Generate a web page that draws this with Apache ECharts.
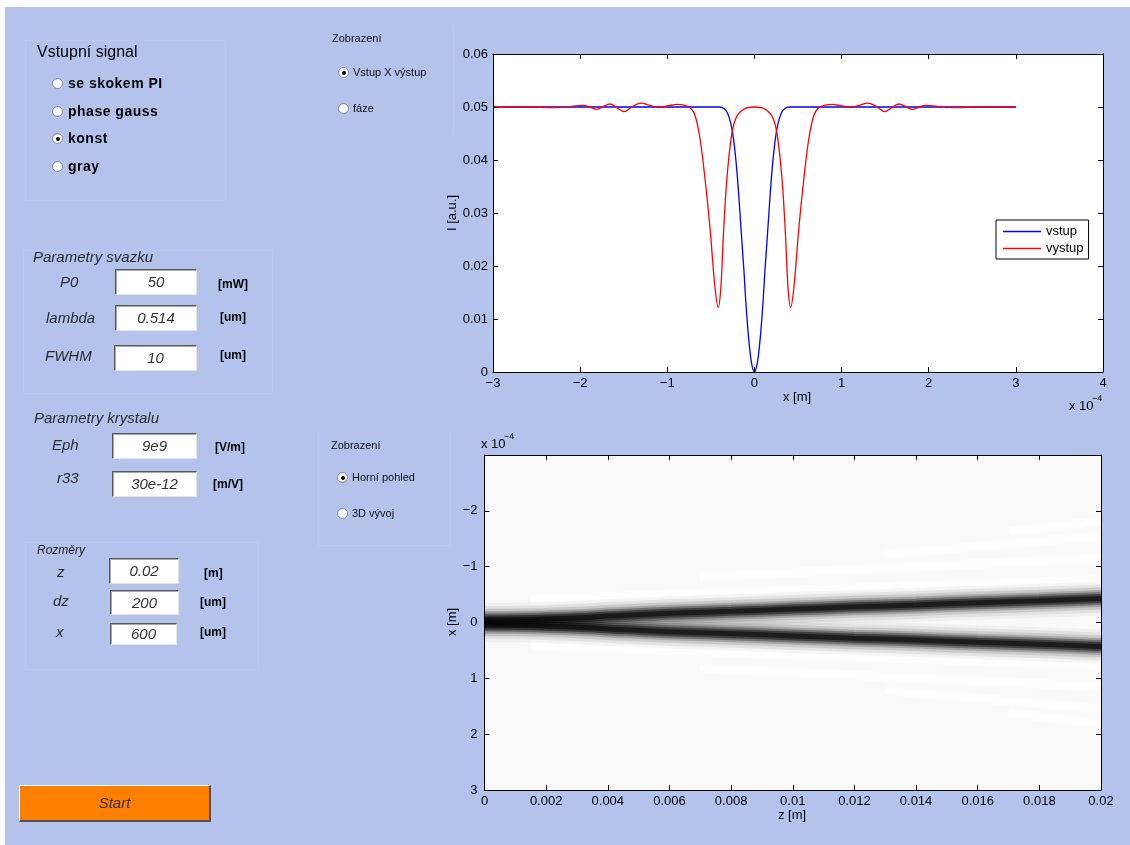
<!DOCTYPE html>
<html>
<head>
<meta charset="utf-8">
<script src="https://cdn.jsdelivr.net/npm/echarts@6.0.0/dist/echarts.min.js"></script>
<style>
  html, body { margin:0; padding:0; background:#ffffff; width:1130px; height:845px; overflow:hidden; }
  #bg { position:absolute; left:5px; top:7px; width:1125px; height:838px; background:#b3c3ec; }
  #c { position:absolute; left:0; top:0; width:1130px; height:845px; z-index:1; }
  #ui { position:absolute; left:0; top:0; width:1130px; height:845px; z-index:2; font-family:"Liberation Sans", Arial, sans-serif; }
  .t { position:absolute; white-space:nowrap; line-height:20px; height:20px; color:#000; }
  .lbl { font-size:15px; font-style:italic; color:#2b2b2b; }
  .u { font-size:12px; font-weight:bold; color:#000; }
  .rt { font-size:14px; font-weight:bold; letter-spacing:0.5px; color:#000; }
  .st { font-size:11px; color:#111; }
  .rb { position:absolute; width:9px; height:9px; border-radius:50%; border:1px solid #8a8a8a;
        background:radial-gradient(circle at 62% 62%, #ffffff 50%, #d0d0d0 100%); }
  .rb.on::after { content:""; position:absolute; left:2.5px; top:2.5px; width:4px; height:4px; border-radius:50%; background:#000; }
  .box { position:absolute; background:#fff; box-sizing:border-box;
         border-top:1px solid #5a5a5a; border-left:1px solid #5a5a5a; border-right:1px solid #e4e4e4; border-bottom:1px solid #e4e4e4;
         box-shadow: inset 1px 1px 0 #a8a8a8;
         font-size:15px; font-style:italic; color:#333; text-align:center; }
  .panel { position:absolute; box-sizing:border-box; border:1px solid #bac8ee; }
  #start { position:absolute; left:19px; top:785px; width:192px; height:37px; box-sizing:border-box; background:#ff8000;
           border-top:1px solid #ffffff; border-left:1px solid #ffffff; border-right:2px solid #505050; border-bottom:2px solid #505050;
           font-size:15px; font-style:italic; color:#333; text-align:center; line-height:34px; }
</style>
</head>
<body>
<div id="bg"></div>
<div id="c"></div>
<div id="ui">
  <div class="panel" style="left:25px;top:40px;width:201px;height:161px;"></div>
  <div class="panel" style="left:23px;top:250px;width:250px;height:144px;"></div>
  <div class="panel" style="left:25px;top:542px;width:234px;height:128px;"></div>
  <div class="panel" style="left:318px;top:25px;width:136px;height:110px;border-top:none;border-left:none;border-bottom:none;"></div>
  <div class="panel" style="left:318px;top:430px;width:133px;height:116px;border-top:none;"></div>

  <div class="t" style="left:37px;top:42px;font-size:16px;">Vstupní signal</div>
  <div class="rb" style="left:52px;top:78px;"></div><div class="t rt" style="left:68px;top:73px;">se skokem PI</div>
  <div class="rb" style="left:52px;top:106px;"></div><div class="t rt" style="left:68px;top:101px;">phase gauss</div>
  <div class="rb on" style="left:52px;top:133px;"></div><div class="t rt" style="left:68px;top:128px;">konst</div>
  <div class="rb" style="left:52px;top:161px;"></div><div class="t rt" style="left:68px;top:156px;">gray</div>

  <div class="t lbl" style="left:33px;top:247px;">Parametry svazku</div>
  <div class="t lbl" style="left:60px;top:272px;">P0</div>
  <div class="box" style="left:115px;top:269px;width:82px;height:26px;line-height:24px;">50</div>
  <div class="t u" style="left:218px;top:274px;">[mW]</div>
  <div class="t lbl" style="left:46px;top:308px;">lambda</div>
  <div class="box" style="left:115px;top:305px;width:82px;height:26px;line-height:24px;">0.514</div>
  <div class="t u" style="left:220px;top:307px;">[um]</div>
  <div class="t lbl" style="left:45px;top:346px;">FWHM</div>
  <div class="box" style="left:114px;top:345px;width:83px;height:26px;line-height:24px;">10</div>
  <div class="t u" style="left:220px;top:345px;">[um]</div>

  <div class="t lbl" style="left:34px;top:408px;">Parametry krystalu</div>
  <div class="t lbl" style="left:52px;top:435px;">Eph</div>
  <div class="box" style="left:112px;top:433px;width:85px;height:26px;line-height:24px;">9e9</div>
  <div class="t u" style="left:215px;top:437px;">[V/m]</div>
  <div class="t lbl" style="left:57px;top:468px;">r33</div>
  <div class="box" style="left:112px;top:471px;width:85px;height:26px;line-height:24px;">30e-12</div>
  <div class="t u" style="left:213px;top:474px;">[m/V]</div>

  <div class="t" style="left:37px;top:540px;font-size:12px;font-style:italic;color:#222;">Rozměry</div>
  <div class="t lbl" style="left:57px;top:562px;">z</div>
  <div class="box" style="left:109px;top:558px;width:70px;height:26px;line-height:24px;">0.02</div>
  <div class="t u" style="left:204px;top:563px;">[m]</div>
  <div class="t lbl" style="left:53px;top:591px;">dz</div>
  <div class="box" style="left:110px;top:590px;width:69px;height:25px;line-height:23px;">200</div>
  <div class="t u" style="left:200px;top:592px;">[um]</div>
  <div class="t lbl" style="left:56px;top:622px;">x</div>
  <div class="box" style="left:110px;top:623px;width:67px;height:22px;line-height:20px;">600</div>
  <div class="t u" style="left:200px;top:622px;">[um]</div>

  <div class="t st" style="left:332px;top:28px;">Zobrazení</div>
  <div class="rb on" style="left:338px;top:67px;"></div><div class="t st" style="left:353px;top:62px;">Vstup X výstup</div>
  <div class="rb" style="left:338px;top:103px;"></div><div class="t st" style="left:353px;top:98px;">fáze</div>

  <div class="t st" style="left:331px;top:435px;">Zobrazení</div>
  <div class="rb on" style="left:337px;top:472px;"></div><div class="t st" style="left:352px;top:467px;">Horní pohled</div>
  <div class="rb" style="left:337px;top:508px;"></div><div class="t st" style="left:352px;top:503px;">3D vývoj</div>

  <div id="start">Start</div>
</div>
<script>
// ---------- top plot: intensity profiles (x in units of 1e-4 m) ----------
const vstupX = [-3, -2, -1, -0.6, -0.40, -0.35, -0.31, -0.27, -0.24, -0.21, -0.185, -0.16, -0.14, -0.12, -0.10, -0.075, -0.05, -0.025, 0,
                0.025, 0.05, 0.075, 0.10, 0.12, 0.14, 0.16, 0.185, 0.21, 0.24, 0.27, 0.31, 0.35, 0.40, 0.6, 1, 2, 3];
const vstupI = [0.05, 0.05, 0.05, 0.05, 0.05, 0.0497, 0.0489, 0.0468, 0.0440, 0.0395, 0.0345, 0.0285, 0.0237, 0.0190, 0.0135, 0.0080, 0.0037, 0.0010, 0,
                0.0010, 0.0037, 0.0080, 0.0135, 0.0190, 0.0237, 0.0285, 0.0345, 0.0395, 0.0440, 0.0468, 0.0489, 0.0497, 0.05, 0.05, 0.05, 0.05, 0.05];

const vystupX = [-3.0, -2.6, -2.3, -2.1, -1.97, -1.89, -1.81, -1.73, -1.66, -1.58, -1.50, -1.40, -1.30, -1.20, -1.11, -1.00, -0.89, -0.80,
                 -0.74, -0.683, -0.625, -0.568, -0.51, -0.453, -0.415, -0.385, -0.358, -0.319, -0.262, -0.204, -0.109, 0,
                 0.109, 0.204, 0.262, 0.319, 0.358, 0.385, 0.415, 0.453, 0.51, 0.568, 0.625, 0.683, 0.74,
                 0.80, 0.89, 1.00, 1.11, 1.20, 1.30, 1.40, 1.50, 1.58, 1.66, 1.73, 1.81, 1.89, 1.97, 2.1, 2.3, 2.6, 3.0];
const vystupI = [0.0500, 0.0500, 0.0499, 0.0501, 0.0503, 0.0500, 0.04956, 0.0501, 0.05057, 0.0499, 0.04912, 0.0501, 0.05075, 0.0503, 0.04994, 0.0502, 0.0505, 0.0503,
                 0.0499, 0.0485, 0.0441, 0.0366, 0.0272, 0.0160, 0.0122, 0.0160, 0.0253, 0.0359, 0.0447, 0.0482, 0.0497, 0.0500,
                 0.0497, 0.0482, 0.0447, 0.0359, 0.0253, 0.0160, 0.0122, 0.0160, 0.0272, 0.0366, 0.0441, 0.0485, 0.0499,
                 0.0503, 0.0505, 0.0502, 0.04994, 0.0503, 0.05075, 0.0501, 0.04912, 0.0499, 0.05057, 0.0501, 0.04956, 0.0500, 0.0503, 0.0501, 0.0499, 0.0500, 0.0500];

// ---------- bottom plot: propagation (z in m, x in units of 1e-4 m) ----------
const beamZ      = [0, 0.001, 0.002, 0.003, 0.004, 0.006, 0.008, 0.010, 0.012, 0.014, 0.016, 0.018, 0.020];
const beamUpperX = [-0.045, -0.05, -0.065, -0.085, -0.115, -0.165, -0.20, -0.24, -0.28, -0.315, -0.355, -0.39, -0.43];
const beamLowerX = [0.045, 0.05, 0.065, 0.085, 0.115, 0.165, 0.20, 0.24, 0.28, 0.315, 0.355, 0.39, 0.43];

// faint bright streaks (start z, |x| at start, |x| at z = 0.02)
const streakStartZ = [0.0015, 0.007, 0.013, 0.017];
const streakStartX = [0.40, 0.82, 1.22, 1.62];
const streakEndX   = [0.75, 1.15, 1.55, 1.82];
const streakEndZ   = 0.02;

const FONT = '"Liberation Sans", Arial, sans-serif';
const minus = s => String(s).replace('-', '\u2212');

const chart = echarts.init(document.getElementById('c'), null, { renderer: 'canvas', width: 1130, height: 845 });

const tick = { show: true, inside: true, length: 5, lineStyle: { color: '#000', width: 1 } };
const aLine = { show: true, onZero: false, lineStyle: { color: '#000', width: 1 } };
const lblStyle = { color: '#000', fontSize: 13, fontFamily: FONT };

function mirrorX(gi, min, max, interval) {
  return { type: 'value', gridIndex: gi, position: 'top', min, max, interval, z: 5,
           axisLine: aLine, axisTick: tick, axisLabel: { show: false }, splitLine: { show: false } };
}
function mirrorY(gi, min, max, interval, inverse) {
  return { type: 'value', gridIndex: gi, position: 'right', min, max, interval, inverse: !!inverse, z: 5,
           axisLine: aLine, axisTick: tick, axisLabel: { show: false }, splitLine: { show: false } };
}

// soft dark branch made of stacked translucent strokes
function beamLayers(data) {
  const layers = [
    { w: 34, c: 'rgba(0,0,0,0.035)' },
    { w: 28, c: 'rgba(0,0,0,0.06)' },
    { w: 22, c: 'rgba(0,0,0,0.10)' },
    { w: 17, c: 'rgba(0,0,0,0.18)' },
    { w: 13, c: 'rgba(0,0,0,0.30)' },
    { w: 9,  c: 'rgba(0,0,0,0.45)' },
    { w: 5,  c: 'rgba(0,0,0,0.55)' }
  ];
  return layers.map(s => ({
    type: 'line', xAxisIndex: 2, yAxisIndex: 2, data, smooth: 0.5, symbol: 'none', silent: true, z: 3,
    lineStyle: { width: s.w, color: s.c, cap: 'butt' }
  }));
}

const streakSeries = [];
streakStartZ.forEach((z0, i) => {
  [-1, 1].forEach(sign => {
    [{ w: i === 0 ? 12 : 10, c: 'rgba(255,255,255,0.45)' }, { w: i === 0 ? 6 : 5, c: 'rgba(255,255,255,0.7)' }].forEach(s => {
      streakSeries.push({
        type: 'line', xAxisIndex: 2, yAxisIndex: 2, symbol: 'none', silent: true, z: 2,
        data: [[z0, sign * streakStartX[i]], [streakEndZ, sign * streakEndX[i]]],
        lineStyle: { width: s.w, color: s.c, cap: 'butt' }
      });
    });
  });
});

const option = {
  backgroundColor: 'transparent',
  animation: false,
  textStyle: { fontFamily: FONT },
  grid: [
    { left: 493, top: 54, width: 610, height: 318, show: true, backgroundColor: '#ffffff', borderWidth: 0 },
    { left: 484.5, top: 455, width: 616.5, height: 335, show: true, backgroundColor: '#f9f9f9', borderWidth: 0 }
  ],
  xAxis: [
    { type: 'value', gridIndex: 0, position: 'bottom', min: -3, max: 4, interval: 1, z: 5,
      axisLine: aLine, axisTick: tick, splitLine: { show: false },
      axisLabel: Object.assign({ margin: 5, showMinLabel: true, showMaxLabel: true, formatter: v => minus(v) }, lblStyle) },
    mirrorX(0, -3, 4, 1),
    { type: 'value', gridIndex: 1, position: 'bottom', min: 0, max: 0.02, interval: 0.002, z: 5,
      axisLine: aLine, axisTick: tick, splitLine: { show: false },
      axisLabel: Object.assign({ margin: 5, showMinLabel: true, showMaxLabel: true,
        formatter: v => v === 0 ? '0' : String(parseFloat(v.toFixed(4))) }, lblStyle) },
    mirrorX(1, 0, 0.02, 0.002)
  ],
  yAxis: [
    { type: 'value', gridIndex: 0, position: 'left', min: 0, max: 0.06, interval: 0.01, z: 5,
      axisLine: aLine, axisTick: tick, splitLine: { show: false },
      axisLabel: Object.assign({ margin: 5, showMinLabel: true, showMaxLabel: true,
        formatter: v => v === 0 ? '0' : v.toFixed(2) }, lblStyle) },
    mirrorY(0, 0, 0.06, 0.01, false),
    { type: 'value', gridIndex: 1, position: 'left', min: -3, max: 3, interval: 1, inverse: true, z: 5,
      axisLine: aLine, axisTick: tick, splitLine: { show: false },
      axisLabel: Object.assign({ margin: 7, showMinLabel: true, showMaxLabel: true,
        formatter: v => v === -3 ? '' : minus(v) }, lblStyle) },
    mirrorY(1, -3, 3, 1, true)
  ],
  legend: {
    data: ['vstup', 'vystup'], orient: 'vertical', left: 996, top: 220,
    padding: [5, 5, 4, 7], itemGap: 4, itemWidth: 38, itemHeight: 1.3, icon: 'rect',
    backgroundColor: '#ffffff', borderColor: '#000', borderWidth: 1, borderRadius: 0,
    selectedMode: false, textStyle: { color: '#000', fontSize: 13, fontFamily: FONT }
  },
  graphic: [
    { type: 'text', x: 797, y: 397, style: { text: 'x [m]', font: '13px ' + FONT, fill: '#000', align: 'center', verticalAlign: 'middle' } },
    { type: 'text', x: 1069, y: 406, style: { text: 'x 10', font: '13px ' + FONT, fill: '#000', align: 'left', verticalAlign: 'middle' } },
    { type: 'text', x: 1092, y: 399, style: { text: '\u22124', font: '9px ' + FONT, fill: '#000', align: 'left', verticalAlign: 'middle' } },
    { type: 'text', x: 452, y: 213, rotation: Math.PI / 2, style: { text: 'I [a.u.]', font: '13px ' + FONT, fill: '#000', align: 'center', verticalAlign: 'middle' } },
    { type: 'text', x: 481, y: 444, style: { text: 'x 10', font: '13px ' + FONT, fill: '#000', align: 'left', verticalAlign: 'middle' } },
    { type: 'text', x: 504, y: 437, style: { text: '\u22124', font: '9px ' + FONT, fill: '#000', align: 'left', verticalAlign: 'middle' } },
    { type: 'text', x: 452, y: 622, rotation: Math.PI / 2, style: { text: 'x [m]', font: '13px ' + FONT, fill: '#000', align: 'center', verticalAlign: 'middle' } },
    { type: 'text', x: 792, y: 815, style: { text: 'z [m]', font: '13px ' + FONT, fill: '#000', align: 'center', verticalAlign: 'middle' } }
  ],
  series: [
    { name: 'vstup', type: 'line', xAxisIndex: 0, yAxisIndex: 0, symbol: 'none', smooth: 0.35, silent: true,
      data: vstupX.map((x, i) => [x, vstupI[i]]), color: '#0000ff', lineStyle: { color: '#0000ff', width: 1.3 } },
    { name: 'vystup', type: 'line', xAxisIndex: 0, yAxisIndex: 0, symbol: 'none', smooth: 0.35, silent: true,
      data: vystupX.map((x, i) => [x, vystupI[i]]), color: '#ff0000', lineStyle: { color: '#ff0000', width: 1.3 } }
  ]
    .concat(streakSeries)
    .concat(beamLayers(beamZ.map((z, i) => [z, beamUpperX[i]])))
    .concat(beamLayers(beamZ.map((z, i) => [z, beamLowerX[i]])))
};

chart.setOption(option);
</script>
</body>
</html>
